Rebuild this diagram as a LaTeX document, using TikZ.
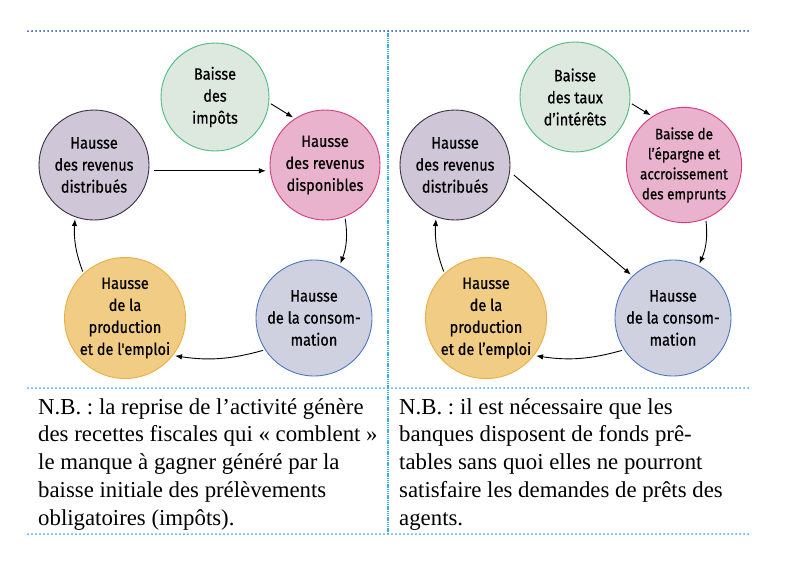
\documentclass[tikz,border=0pt]{standalone}
\usepackage{fontspec}
\setmainfont{Liberation Serif}
\newfontfamily\circfont[FakeStretch=0.88,FakeBold=0.6]{Fira Sans}
\usetikzlibrary{arrows.meta}
\definecolor{gfill}{HTML}{DDE8DF}
\definecolor{gbd}{HTML}{4DBB80}
\definecolor{pfill}{HTML}{CFC7D8}
\definecolor{pbd}{HTML}{3A3040}
\definecolor{kfill}{HTML}{E9B2CD}
\definecolor{kbd}{HTML}{D63A7E}
\definecolor{yfill}{HTML}{F1CC85}
\definecolor{ybd}{HTML}{EAAE40}
\definecolor{bfill}{HTML}{CFD1E1}
\definecolor{bbd}{HTML}{4A78C0}
\definecolor{darkdots}{HTML}{2A5A9A}
\definecolor{lightdots}{HTML}{3AAEE0}
\frenchspacing
\begin{document}
\begin{tikzpicture}[x=1pt,y=-1pt,
  bubble/.style={circle, inner sep=0pt, line width=0.9pt, align=center,
    font=\circfont\fontsize{16.5}{22}\selectfont},
  arr/.style={-{Latex[length=7pt,width=5.5pt]}, line width=0.9pt, shorten >=2pt, shorten <=2pt},
  dotline/.style={line width=2pt, line cap=round, dash pattern=on 0pt off 4pt},
  note/.style={anchor=north west, inner sep=0pt, align=left, font=\fontsize{22.8}{27.75}\selectfont}]
\useasboundingbox (0,0) rectangle (785,562);
\fill[white] (0,0) rectangle (785,562);

% frame lines
\coordinate (tl) at (28,31);
\coordinate (tr) at (748,31);
\coordinate (ml) at (28,388);
\coordinate (mr) at (748,388);
\coordinate (bl) at (28,534);
\coordinate (br) at (748,534);
\coordinate (vt) at (388,31);
\coordinate (vb) at (388,534);
\draw[lightdots, line width=1.6pt, dash pattern=on 1.4pt off 0.8pt] (vt) -- (vb);
\draw[dotline, darkdots] (tl) -- (tr);
\draw[dotline, lightdots] (ml) -- (mr);
\draw[dotline, lightdots] (bl) -- (br);

% left panel
\node[bubble, minimum size=108pt, draw=gbd, fill=gfill] (g1) at (215,97) {Baisse\\des\\impôts};
\node[bubble, minimum size=110pt, draw=pbd, fill=pfill] (p1) at (94,165) {Hausse\\des revenus\\distribués};
\node[bubble, minimum size=110pt, draw=kbd, fill=kfill] (k1) at (325,165) {Hausse\\des revenus\\disponibles};
\node[bubble, minimum size=116pt, draw=bbd, fill=bfill] (b1) at (314,318) {Hausse\\de la consom-\\mation};
\node[bubble, minimum size=116pt, draw=ybd, fill=yfill] (y1) at (125,318) {Hausse\\de la\\production\\et de l'emploi};

\draw[arr] (g1.-6) -- (k1.123);
\draw[arr, shorten <=5pt, shorten >=4pt] (p1.-6) -- (k1.186);
\draw[arr] (k1.-69) to[bend left=15] (b1.64);
\draw[arr] (b1.213) to[bend left=12] (y1.-38);
\draw[arr] (y1.133) to[bend left=12] (p1.-110);

% right panel
\node[bubble, minimum size=110pt, draw=gbd, fill=gfill] (g2) at (575,97) {Baisse\\des taux\\d’intérêts};
\node[bubble, minimum size=108pt, draw=kbd, fill=kfill, font=\circfont\fontsize{15.3}{20}\selectfont] (k2) at (684,165) {Baisse de\\l’épargne et\\accroissement\\des emprunts};
\node[bubble, minimum size=110pt, draw=pbd, fill=pfill] (p2) at (455,165) {Hausse\\des revenus\\distribués};
\node[bubble, minimum size=116pt, draw=bbd, fill=bfill] (b2) at (673,318) {Hausse\\de la consom-\\mation};
\node[bubble, minimum size=116pt, draw=ybd, fill=yfill] (y2) at (486,318) {Hausse\\de la\\production\\et de l’emploi};

\draw[arr] (g2.-6) -- (k2.123);
\draw[arr, shorten <=5pt] (p2.-7) -- (b2.134);
\draw[arr] (k2.-68) to[bend left=15] (b2.64);
\draw[arr] (b2.213) to[bend left=12] (y2.-38);
\draw[arr] (y2.133) to[bend left=12] (p2.-110);

% notes
\node[note] (n1) at (38,398) {N.B. : la reprise de l’activité génère\\des recettes fiscales qui « comblent »\\le manque à gagner généré par la\\baisse initiale des prélèvements\\obligatoires (impôts).};
\node[note] (n2) at (399,398) {N.B. : il est nécessaire que les\\banques disposent de fonds prê-\\tables sans quoi elles ne pourront\\satisfaire les demandes de prêts des\\agents.};
\end{tikzpicture}
\end{document}
